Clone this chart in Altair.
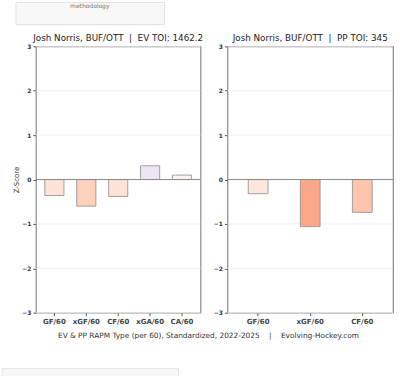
import altair as alt
import pandas as pd

# ---- data ----
ev_metrics = ["GF/60", "xGF/60", "CF/60", "xGA/60", "CA/60"]
ev_values = [-0.36, -0.60, -0.38, 0.31, 0.10]
pp_metrics = ["GF/60", "xGF/60", "CF/60"]
pp_values = [-0.32, -1.06, -0.74]
y_ticks = [-3, -2, -1, 0, 1, 2, 3]
player = "Josh Norris, BUF/OTT"
ev_toi = "1462.2"
pp_toi = "345"
SEP = "\u00a0\u00a0|\u00a0\u00a0"
caption = ("EV & PP RAPM Type (per 60), Standardized, 2022-2025"
           + "\u00a0\u00a0\u00a0\u00a0|\u00a0\u00a0\u00a0\u00a0" + "Evolving-Hockey.com")
box_label = "methodology"

# ---- colour scale (Reds for negative, Purples for positive) ----
color_domain = [-3.4, -2.975, -2.55, -2.125, -1.7, -1.275, -0.85, -0.425, 0,
                0.375, 0.75, 1.125, 1.5, 3]
color_range = ["#67000d", "#a50f15", "#cb181d", "#ef3b2c", "#fb6a4a", "#fc9272",
               "#fcbba1", "#fee0d2", "#fff8f5",
               "#e6e3f2", "#d2d1e7", "#bcbddc", "#9e9ac8", "#3f007d"]

FONT = "DejaVu Sans"
yscale = alt.Scale(domain=[-3, 3], nice=False, zero=False)
one = pd.DataFrame({"a": [0]})


def yaxis(title):
    kw = dict(values=y_ticks, grid=False, domain=False, tickSize=3, tickColor="#555",
              labelFontSize=6, labelFontWeight="bold", labelColor="#333", labelPadding=2,
              format="d")
    if title:
        return alt.Axis(title=title, titleFontSize=7, titleFontWeight="normal",
                        titleColor="#333", titlePadding=2, **kw)
    return alt.Axis(title=None, **kw)


def panel_layers(metrics, values, ytitle, pad_inner, pad_outer, title, width):
    df = pd.DataFrame({"metric": metrics, "z": values})
    ticks_df = pd.DataFrame({"z": y_ticks})
    grid = alt.Chart(ticks_df).mark_rule(color="#ececec", strokeWidth=0.8).encode(
        y=alt.Y("z:Q", scale=yscale, axis=yaxis(ytitle))
    )
    zero = alt.Chart(pd.DataFrame({"z": [0]})).mark_rule(color="#8a8a8a", strokeWidth=1).encode(
        y=alt.Y("z:Q", scale=yscale, axis=yaxis(ytitle))
    )
    bars = alt.Chart(df).mark_bar(stroke="#8c8c8c", strokeWidth=0.8).encode(
        x=alt.X("metric:N", sort=metrics,
                scale=alt.Scale(paddingInner=pad_inner, paddingOuter=pad_outer),
                axis=alt.Axis(title=None, labelAngle=0, domain=False, tickSize=3,
                              tickColor="#555", labelFontSize=7, labelFontWeight="bold",
                              labelColor="#444", labelPadding=2)),
        y=alt.Y("z:Q", scale=yscale, axis=yaxis(ytitle)),
        color=alt.Color("z:Q", scale=alt.Scale(domain=color_domain, range=color_range),
                        legend=None),
    )
    ttl = alt.Chart(one).mark_text(fontSize=8.8, color="#222", align="center",
                                   baseline="middle", font=FONT).encode(
        x=alt.value(width / 2), y=alt.value(-8), text=alt.value(title)
    )
    return [grid, bars, zero, ttl]


top_box = alt.Chart(one).mark_rect(fill="#f8f8f8", stroke="#e2e2e2", strokeWidth=1).encode(
    x=alt.value(-20), x2=alt.value(129), y=alt.value(-44), y2=alt.value(-22)
)
top_text = alt.Chart(one).mark_text(fontSize=6, color="#777", baseline="top", align="center").encode(
    x=alt.value(54), y=alt.value(-43), text=alt.value(box_label)
)
bottom_box = alt.Chart(one).mark_rect(fill="#f7f7f7", stroke="#e6e6e6", strokeWidth=1).encode(
    x=alt.value(-34), x2=alt.value(143), y=alt.value(323), y2=alt.value(332)
)
cap = alt.Chart(one).mark_text(fontSize=7.4, color="#333", align="center", baseline="middle").encode(
    x=alt.value(173), y=alt.value(290), text=alt.value(caption)
)

left = alt.layer(*panel_layers(ev_metrics, ev_values, "Z-Score", 0.4, 0.28,
                               f"{player}{SEP}EV TOI: {ev_toi}", 165),
                 top_box, top_text, bottom_box, cap).properties(width=165, height=267)
right = alt.layer(*panel_layers(pp_metrics, pp_values, None, 0.62, 0.4,
                                f"{player}{SEP}PP TOI: {pp_toi}", 166)).properties(width=166, height=267)

chart = alt.hconcat(left, right, spacing=27, bounds="flush").properties(
    padding={"left": 0, "top": 0, "right": 5, "bottom": 0}
).configure(font=FONT).configure_view(stroke="#8a8a8a", strokeWidth=1.2)

chart.save("out.html", embed_options={"renderer": "svg", "actions": False})
